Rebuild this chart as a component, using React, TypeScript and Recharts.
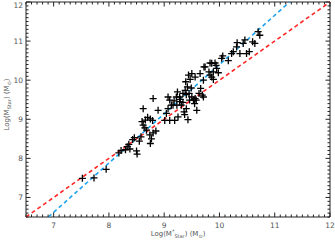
import React from 'react';
import {
  ScatterChart,
  Scatter,
  XAxis,
  YAxis,
  ReferenceLine,
  ReferenceArea
} from 'recharts';

// photometric stellar mass (x) vs dynamical/fit stellar mass (y), log units
const logMPhot = [
  7.52, 7.73, 7.95, 8.18, 8.22, 8.3, 8.33, 8.36, 8.43, 8.46, 8.5, 8.51, 8.55, 8.38,
  8.62, 8.65, 8.68, 8.74, 8.77, 8.75, 8.79, 8.8, 8.85, 8.58, 8.62, 8.8, 8.89, 8.7,
  8.66, 8.75, 9.01, 9.04, 9.1, 9.19, 9.07, 9.13, 9.18, 9.22, 9.24, 9.29, 9.34, 9.36,
  9.4, 9.43, 9.07, 9.1, 9.16, 9.28, 9.34, 9.31, 9.25, 9.38, 9.42, 9.39, 9.47, 9.44,
  9.5, 9.59, 9.56, 9.56, 9.65, 9.72, 9.81, 9.86, 9.92, 9.89, 9.95, 9.45, 9.5, 9.53,
  9.58, 9.63, 9.66, 9.28, 9.23, 9.46, 9.55, 9.69, 9.71, 9.71, 9.74, 9.83, 9.86, 9.89,
  9.98, 9.83, 9.94, 10.06, 10.04, 10.16, 10.22, 10.25, 10.31, 10.32, 10.37, 10.43,
  10.46, 10.49, 10.54, 10.64, 10.6, 10.7, 10.73, 9.4, 9.49, 8.6, 9.37
];
const logMStar = [
  7.49, 7.5, 7.72, 8.14, 8.2, 8.22, 8.3, 8.36, 8.48, 8.53, 8.19, 8.11, 8.44, 8.24,
  8.85, 8.78, 8.72, 8.6, 8.5, 8.38, 8.97, 8.65, 8.7, 8.55, 9.27, 9.53, 9.23, 9.05,
  8.98, 9.01, 8.97, 9.15, 8.97, 8.97, 9.27, 9.36, 9.47, 9.57, 9.7, 9.51, 9.43, 9.19,
  9.27, 8.99, 9.57, 9.49, 9.36, 9.57, 9.66, 9.36, 9.06, 9.74, 9.83, 9.96, 10.02, 10.13,
  10.17, 9.23, 9.53, 10.08, 10.17, 10.34, 10.21, 10.43, 10.44, 10.21, 10.3, 9.66, 9.57, 9.49,
  9.49, 9.66, 9.79, 9.45, 9.36, 9.49, 9.4, 9.62, 9.57, 10.0, 10.34, 10.13, 10.08, 10.02,
  10.19, 10.44, 10.38, 10.62, 10.56, 10.5, 10.68, 10.73, 10.85, 10.96, 10.68, 10.94,
  11.03, 10.68, 10.73, 10.94, 10.98, 11.24, 11.15, 9.63, 9.8, 8.94, 9.12
];

const axisMin = 6.5;
const axisMax = 12;
const majorTicks = [7, 8, 9, 10, 11, 12];
// blue dashed fit line: y = fitSlope * x + fitIntercept
const fitSlope = 1.26;
const fitIntercept = -2.2;

const W = 335;
const H = 240;
const margin = { top: 2, right: 5, bottom: 0, left: 0 };
const plotTop = margin.top;
const plotRight = W - margin.right;

// minor ticks every 0.1
const minorTicks: number[] = [];
for (let i = axisMin * 10; i <= axisMax * 10; i++) minorTicks.push(i / 10);

const points = logMPhot.map((x, i) => ({ x, y: logMStar[i] }));

const isMajor = (v: number) => majorTicks.some((m) => Math.abs(m - v) < 1e-6);
const font = 'DejaVu Sans, sans-serif';
const grey = '#555';

const XTick = (props: any) => {
  const { x, y, payload } = props;
  const major = isMajor(payload.value);
  const len = major ? 4.5 : 2.5;
  return (
    <g>
      <line x1={x} y1={y} x2={x} y2={y - len} stroke="#222" />
      <line x1={x} y1={plotTop} x2={x} y2={plotTop + len} stroke="#222" />
      {major && (
        <text x={x} y={y + 11} textAnchor="middle" fontSize={7.5} fill={grey} fontFamily={font}>
          {payload.value}
        </text>
      )}
    </g>
  );
};

const YTick = (props: any) => {
  const { x, y, payload } = props;
  const major = isMajor(payload.value);
  const len = major ? 4.5 : 2.5;
  return (
    <g>
      <line x1={x} y1={y} x2={x + len} y2={y} stroke="#222" />
      <line x1={plotRight} y1={y} x2={plotRight - len} y2={y} stroke="#222" />
      {major && (
        <text x={x - 3} y={Math.max(y + 3, 7.5)} textAnchor="end" fontSize={7.5} fill={grey} fontFamily={font}>
          {payload.value}
        </text>
      )}
    </g>
  );
};

const XLabel = (props: any) => {
  const vb = props.viewBox;
  return (
    <text x={vb.x + vb.width / 2} y={vb.y + 19} textAnchor="middle" fontSize={7} fill={grey} fontFamily={font}>
      Log(M<tspan fontSize={5} dy={-3}>*</tspan>
      <tspan fontSize={5} dy={5}>Star</tspan>
      <tspan dy={-2}>)  (M</tspan>
      <tspan fontSize={5} dy={2}>⊙</tspan>
      <tspan dy={-2}>)</tspan>
    </text>
  );
};

const YLabel = (props: any) => {
  const vb = props.viewBox;
  const cx = 9;
  const cy = vb.y + vb.height / 2 - 5;
  return (
    <text
      x={cx}
      y={cy}
      transform={`rotate(-90 ${cx} ${cy})`}
      textAnchor="middle"
      fontSize={7}
      fill={grey}
      fontFamily={font}
    >
      Log(M<tspan fontSize={5} dy={2}>Star</tspan>
      <tspan dy={-2}>)  (M</tspan>
      <tspan fontSize={5} dy={2}>⊙</tspan>
      <tspan dy={-2}>)</tspan>
    </text>
  );
};

const Plus = (props: any) => {
  const { cx, cy } = props;
  const s = 3.5;
  return (
    <path
      d={`M${cx - s},${cy}H${cx + s}M${cx},${cy - s}V${cy + s}`}
      stroke="#000"
      strokeWidth={1.3}
      fill="none"
    />
  );
};

const App: React.FC = () => {
  const fitLo = (axisMin - fitIntercept) / fitSlope;
  const fitHi = (axisMax - fitIntercept) / fitSlope;
  return (
    <div style={{ position: 'absolute', left: 0, top: 0, width: W, height: H, background: '#fff' }}>
      <ScatterChart width={W} height={H} margin={margin}>
        <XAxis
          type="number"
          dataKey="x"
          domain={[axisMin, axisMax]}
          ticks={minorTicks}
          interval={0}
          allowDataOverflow
          height={23}
          tickSize={0}
          tickMargin={0}
          tickLine={false}
          axisLine={false}
          tick={<XTick />}
          label={<XLabel />}
        />
        <YAxis
          type="number"
          dataKey="y"
          domain={[axisMin, axisMax]}
          ticks={minorTicks}
          interval={0}
          allowDataOverflow
          width={26}
          tickSize={0}
          tickMargin={0}
          tickLine={false}
          axisLine={false}
          tick={<YTick />}
          label={<YLabel />}
        />
        <ReferenceArea
          x1={axisMin}
          x2={axisMax}
          y1={axisMin}
          y2={axisMax}
          fill="none"
          stroke="#222"
          strokeWidth={1}
        />
        <ReferenceLine
          segment={[{ x: axisMin, y: axisMin }, { x: axisMax, y: axisMax }]}
          stroke="#ff2626"
          strokeWidth={1.6}
          strokeDasharray="4 3"
        />
        <ReferenceLine
          segment={[{ x: fitLo, y: axisMin }, { x: fitHi, y: axisMax }]}
          stroke="#1ea3ee"
          strokeWidth={1.6}
          strokeDasharray="4 3"
        />
        <Scatter data={points} shape={<Plus />} isAnimationActive={false} />
      </ScatterChart>
    </div>
  );
};

export default App;
